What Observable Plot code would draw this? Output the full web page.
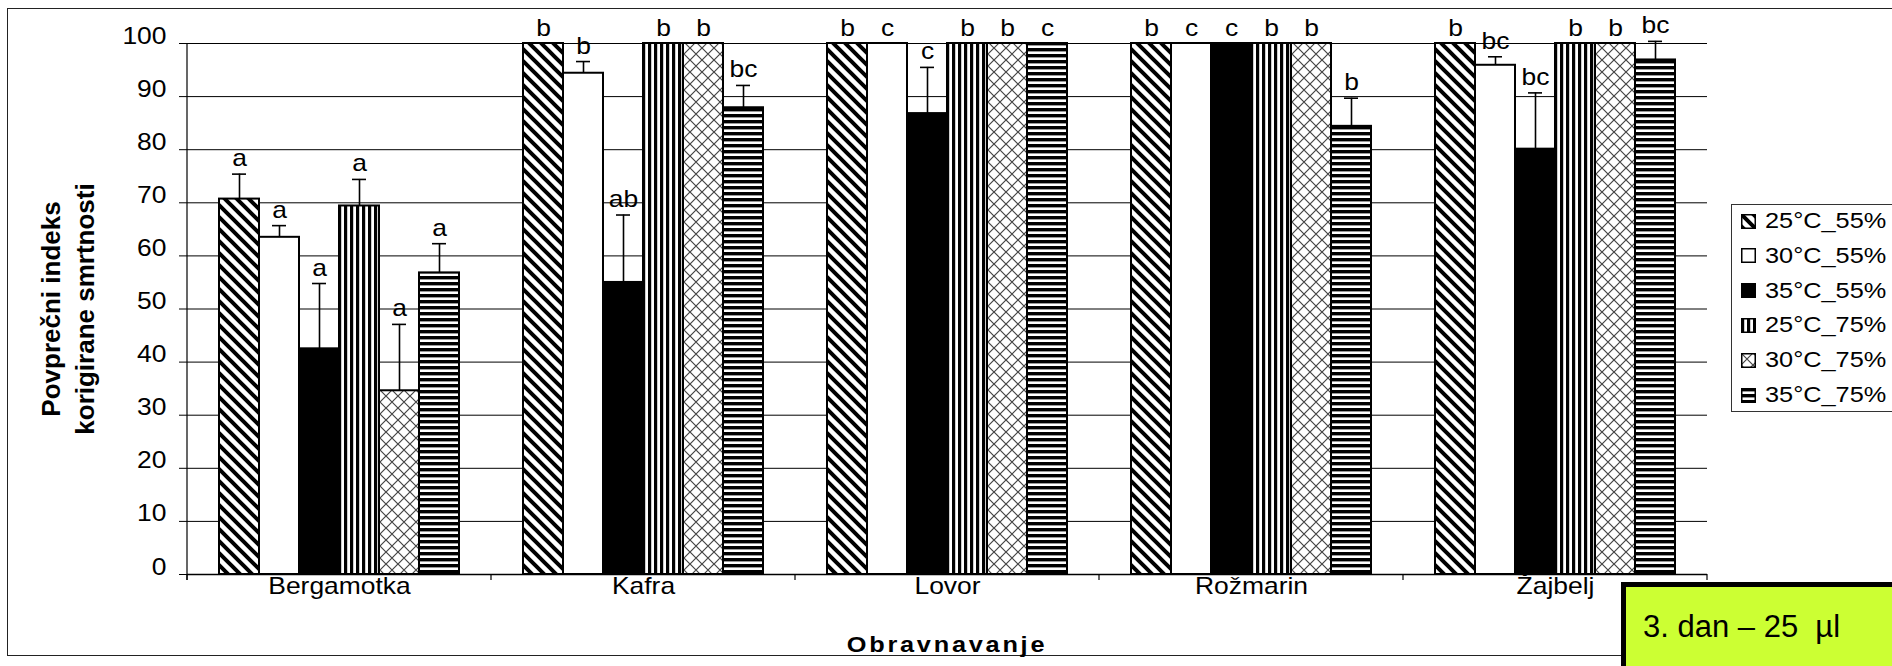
<!DOCTYPE html>
<html>
<head>
<meta charset="utf-8">
<script src="https://cdn.jsdelivr.net/npm/d3@7"></script>
<script src="https://cdn.jsdelivr.net/npm/@observablehq/plot@0.6"></script>
<style>
  body { margin: 0; background: #fff; }
  #wrap { position: relative; width: 1892px; height: 666px; overflow: hidden; font-family: "Liberation Sans", Arial, sans-serif; color: #000; }
  #wrap > svg { position: absolute; left: 0; top: 0; }
  .frame { position: absolute; left: 7px; top: 8px; width: 1900px; height: 648px; border: 1.5px solid #222; box-sizing: border-box; pointer-events: none; }
  .ytitle { position: absolute; font-weight: bold; font-size: 26px; white-space: nowrap; transform: translate(-50%, -50%) rotate(-90deg); }
  .xtitle { position: absolute; font-weight: bold; font-size: 22px; letter-spacing: 2.4px; white-space: nowrap; transform: translate(-50%, -50%) scaleX(1.15); }
  .legend { position: absolute; left: 1731px; top: 204px; width: 200px; height: 208px; border: 1.5px solid #333; box-sizing: border-box; background: #fff; }
  .legend svg { position: absolute; left: 9px; }
  .legend span { position: absolute; left: 33px; font-size: 22px; line-height: 26px; white-space: nowrap; transform: scaleX(1.15); transform-origin: left center; }
  .tag { position: absolute; left: 1621px; top: 582px; width: 300px; height: 100px; background: #ccff33; border-top: 5px solid #000; border-left: 5px solid #000; box-sizing: border-box; }
  .tag span { position: absolute; left: 17px; top: 22px; font-size: 31px; white-space: nowrap; }
</style>
</head>
<body>
<div id="wrap"></div>
<script>
// ---- data -------------------------------------------------------------
const categories = ["Bergamotka", "Kafra", "Lovor", "Rožmarin", "Žajbelj"];
const series = ["25°C_55%", "30°C_55%", "35°C_55%", "25°C_75%", "30°C_75%", "35°C_75%"];
const yTicks = [0, 10, 20, 30, 40, 50, 60, 70, 80, 90, 100];

// mean corrected mortality index, one array per treatment (in series order)
const bergamotka = [70.7, 63.5, 42.5, 69.4, 34.6, 56.8];
const kafra      = [100, 94.4, 55.0, 100, 100, 87.9];
const lovor      = [100, 100, 86.8, 100, 100, 100];
const rozmarin   = [100, 100, 100, 100, 100, 84.4];
const zajbelj    = [100, 95.9, 80.1, 100, 100, 96.9];

// upper error (standard error) per bar
const bergamotkaErr = [4.7, 2.2, 12.3, 5.0, 12.5, 5.5];
const kafraErr      = [0, 2.2, 12.7, 0, 0, 4.2];
const lovorErr      = [0, 0, 8.7, 0, 0, 0];
const rozmarinErr   = [0, 0, 0, 0, 0, 5.3];
const zajbeljErr    = [0, 1.6, 10.6, 0, 0, 3.5];

// significance letters
const bergamotkaLet = ["a", "a", "a", "a", "a", "a"];
const kafraLet      = ["b", "b", "ab", "b", "b", "bc"];
const lovorLet      = ["b", "c", "c", "b", "b", "c"];
const rozmarinLet   = ["b", "c", "c", "b", "b", "b"];
const zajbeljLet    = ["b", "bc", "bc", "b", "b", "bc"];

const yTitle = ["Povprečni indeks", "korigirane smrtnosti"];
const xTitle = "Obravnavanje";
const tagText = "3. dan – 25\u00a0 µl";

// ---- table ------------------------------------------------------------
const means = [bergamotka, kafra, lovor, rozmarin, zajbelj];
const errs = [bergamotkaErr, kafraErr, lovorErr, rozmarinErr, zajbeljErr];
const lets = [bergamotkaLet, kafraLet, lovorLet, rozmarinLet, zajbeljLet];
const rows = [];
categories.forEach((c, ci) => series.forEach((s, si) => {
  rows.push({cat: c, series: s, mean: means[ci][si], err: errs[ci][si], top: means[ci][si] + errs[ci][si], letter: lets[ci][si]});
}));
const errRows = rows.filter(d => d.err > 0);

const fills = ["url(#pat0)", "#ffffff", "#000000", "url(#pat3)", "url(#pat4)", "url(#pat5)"];
const S = 1.15; // horizontal stretch of text as in the reference

const plot = Plot.plot({
  width: 1892,
  height: 666,
  marginLeft: 185,
  marginRight: 184,
  marginTop: 43,
  marginBottom: 92,
  style: {fontFamily: '"Liberation Sans", Arial, sans-serif', fontSize: "23px", color: "#000", background: "transparent", overflow: "visible"},
  fx: {domain: categories, padding: 0, axis: "bottom", label: null, tickSize: 0, tickPadding: 19},
  x: {domain: series, paddingInner: 0, paddingOuter: 0.73, axis: null},
  y: {domain: [0, 100], ticks: yTicks, tickSize: 8, tickPadding: 13, label: null},
  color: {domain: series, range: fills},
  marks: [
    Plot.ruleY(yTicks.filter(d => d > 0), {stroke: "#000", strokeWidth: 1}),
    Plot.barY(rows, {fx: "cat", x: "series", y: "mean", fill: "series", stroke: "#000", strokeWidth: 2}),
    Plot.ruleX(errRows, {fx: "cat", x: "series", y1: "mean", y2: "top", stroke: "#000", strokeWidth: 1.6}),
    Plot.tickY(errRows, {fx: "cat", x: "series", y: "top", stroke: "#000", strokeWidth: 1.6, insetLeft: 13, insetRight: 13}),
    Plot.text(rows, {fx: "cat", x: "series", y: "top", text: "letter", dy: -8, lineAnchor: "bottom", fontSize: 23, fill: "#000"}),
    Plot.ruleY([0], {stroke: "#000", strokeWidth: 1.5})
  ]
});

const svg = d3.select(plot);
// pattern definitions used by the colour scale
const defs = svg.insert("defs", ":first-child");
const p0 = defs.append("pattern").attr("id", "pat0").attr("patternUnits", "userSpaceOnUse").attr("width", 12).attr("height", 12);
p0.append("rect").attr("width", 12).attr("height", 12).attr("fill", "#fff");
p0.append("path").attr("d", "M-3,-3L15,15M-9,3L3,15M3,-9L15,3").attr("stroke", "#000").attr("stroke-width", 4);
const p3 = defs.append("pattern").attr("id", "pat3").attr("patternUnits", "userSpaceOnUse").attr("width", 6).attr("height", 6);
p3.append("rect").attr("width", 6).attr("height", 6).attr("fill", "#fff");
p3.append("rect").attr("width", 3.2).attr("height", 6).attr("fill", "#000");
const p4 = defs.append("pattern").attr("id", "pat4").attr("patternUnits", "userSpaceOnUse").attr("width", 12).attr("height", 12);
p4.append("rect").attr("width", 12).attr("height", 12).attr("fill", "#fff");
p4.append("path").attr("d", "M0,0L12,12M12,0L0,12M-1,11L1,13M11,-1L13,1").attr("stroke", "#444").attr("stroke-width", 1.2);
const p5 = defs.append("pattern").attr("id", "pat5").attr("patternUnits", "userSpaceOnUse").attr("width", 6).attr("height", 6);
p5.append("rect").attr("width", 6).attr("height", 6).attr("fill", "#fff");
p5.append("rect").attr("width", 6).attr("height", 3.4).attr("fill", "#000");

// stretch text horizontally like the reference
svg.selectAll("text").each(function () {
  const x = +this.getAttribute("x") || 0, y = +this.getAttribute("y") || 0;
  this.removeAttribute("x"); this.removeAttribute("y");
  const t = this.getAttribute("transform") || "";
  this.setAttribute("transform", `${t} translate(${x},${y}) scale(${S},1)`);
});

// y axis line and category boundary ticks (from the plot's scales)
const fxs = plot.scale("fx"), ys = plot.scale("y");
const y0 = ys.apply(0), y100 = ys.apply(100);
const bounds = categories.map(c => fxs.apply(c)).concat([fxs.apply(categories[categories.length - 1]) + fxs.bandwidth]);
const deco = svg.append("g").attr("stroke", "#000");
deco.append("line").attr("x1", bounds[0]).attr("x2", bounds[0]).attr("y1", y100).attr("y2", y0 + 6).attr("stroke-width", 1.2);
bounds.forEach(b => deco.append("line").attr("x1", b).attr("x2", b).attr("y1", y0).attr("y2", y0 + 6).attr("stroke-width", 1.2));

const wrap = document.getElementById("wrap");
wrap.appendChild(plot);

// outer frame
const fr = document.createElement("div"); fr.className = "frame"; wrap.appendChild(fr);

// y title (two lines)
const yMid = (y0 + y100) / 2;
[[51, yTitle[0]], [85, yTitle[1]]].forEach(([x, t]) => {
  const d = document.createElement("div"); d.className = "ytitle"; d.textContent = t;
  d.style.left = x + "px"; d.style.top = yMid + "px"; wrap.appendChild(d);
});

// x title
const xt = document.createElement("div"); xt.className = "xtitle"; xt.textContent = xTitle;
xt.style.left = ((bounds[0] + bounds[bounds.length - 1]) / 2) + "px"; xt.style.top = "645px"; wrap.appendChild(xt);

// legend
const lg = document.createElement("div"); lg.className = "legend"; wrap.appendChild(lg);
series.forEach((s, i) => {
  const cy = 16 + i * 34.8;
  const sw = document.createElementNS("http://www.w3.org/2000/svg", "svg");
  sw.setAttribute("width", 15); sw.setAttribute("height", 15);
  sw.style.top = (cy - 7.5) + "px";
  sw.innerHTML = `<rect x="0.75" y="0.75" width="13.5" height="13.5" fill="${fills[i]}" stroke="#000" stroke-width="1.5"/>`;
  lg.appendChild(sw);
  const sp = document.createElement("span"); sp.textContent = s; sp.style.top = (cy - 13) + "px";
  lg.appendChild(sp);
});

// day / dose tag
const tg = document.createElement("div"); tg.className = "tag";
const ts = document.createElement("span"); ts.textContent = tagText; tg.appendChild(ts); wrap.appendChild(tg);
</script>
</body>
</html>
